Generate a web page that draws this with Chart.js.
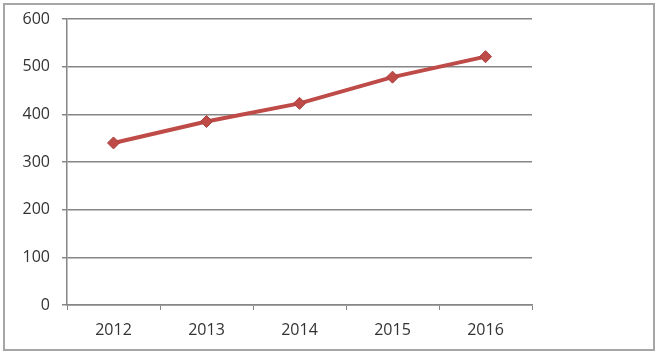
<!DOCTYPE html>
<html>
<head>
<meta charset="utf-8">
<script src="https://cdn.jsdelivr.net/npm/chart.js@4"></script>
<style>
    html, body { margin: 0; padding: 0; background: #fff; }
    #wrap { position: relative; width: 659px; height: 354px; }
</style>
</head>
<body>
<div id="wrap"><canvas id="lineChart" width="659" height="354"></canvas></div>
<script>
// Chart data
const years = ['2012', '2013', '2014', '2015', '2016'];
const values = [340, 385, 423, 478, 521];
const yTicks = [0, 100, 200, 300, 400, 500, 600];

// Outer frame like the Excel chart area
const frame = {
    id: 'frame',
    afterDraw(chart) {
        const ctx = chart.ctx;
        ctx.save();
        ctx.strokeStyle = '#a6a6a6';
        ctx.lineWidth = 2;
        ctx.strokeRect(4, 4, 650, 346);
        ctx.restore();
    }
};

const ctx = document.getElementById('lineChart').getContext('2d');
new Chart(ctx, {
    type: 'line',
    data: {
        labels: years,
        datasets: [{
            data: values,
            borderColor: '#be4b48',
            backgroundColor: '#be4b48',
            borderWidth: 4,
            pointStyle: 'rectRot',
            pointRadius: 6,
            pointBorderColor: '#a8403d',
            pointBorderWidth: 1,
            tension: 0,
            fill: false
        }]
    },
    options: {
        responsive: false,
        animation: false,
        layout: { padding: { left: 0, right: 127, top: 19, bottom: 0 } },
        plugins: {
            legend: { display: false },
            tooltip: { enabled: false }
        },
        scales: {
            x: {
                offset: true,
                grid: {
                    offset: true,
                    drawOnChartArea: false,
                    drawTicks: true,
                    tickLength: 5,
                    color: '#868686'
                },
                border: { color: '#868686', width: 1.5 },
                ticks: {
                    color: '#333333',
                    padding: 11,
                    font: { family: 'Open Sans', size: 16 }
                },
                afterFit: function(scale) {
                    scale.height = 49;
                    scale.paddingLeft = 0;
                    scale.paddingRight = 0;
                }
            },
            y: {
                min: 0,
                max: 600,
                afterBuildTicks: function(scale) {
                    scale.ticks = yTicks.map(v => ({ value: v }));
                },
                grid: {
                    color: '#868686',
                    lineWidth: 1.5,
                    drawTicks: true,
                    tickLength: 5
                },
                border: { color: '#868686', width: 1.5 },
                ticks: {
                    color: '#333333',
                    padding: 12,
                    font: { family: 'Open Sans', size: 16 }
                },
                afterFit: function(scale) {
                    scale.width = 67;
                    scale.paddingTop = 0;
                    scale.paddingBottom = 0;
                }
            }
        }
    },
    plugins: [frame]
});
</script>
</body>
</html>
